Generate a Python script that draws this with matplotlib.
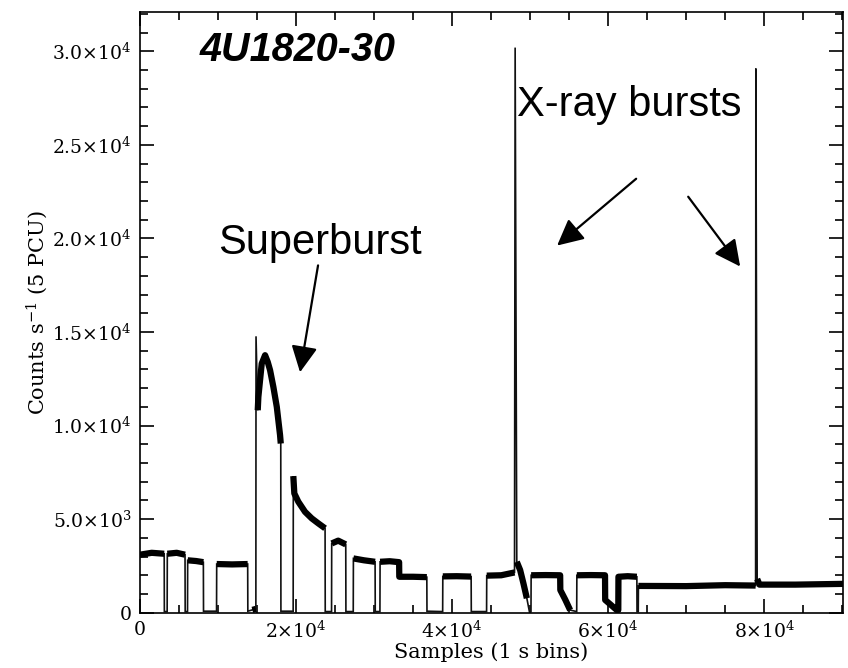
import numpy as np
import matplotlib
matplotlib.use("Agg")
import matplotlib.pyplot as plt
from matplotlib.ticker import MultipleLocator, FuncFormatter

# light curve (time in s, rate in counts/s)
time_s = [0, 1500, 3100, 3120, 3480,
          3500, 4700, 5770, 5790, 6090,
          6110, 7200, 8120, 8140, 9810,
          9830, 11800, 13800, 13820, 14400, 14850,
          14870, 15090, 15170, 15600, 16030, 16370, 16670, 17090, 17530, 17950, 18040,
          18060, 19630,
          19650, 19780, 20290, 21150, 22010, 22860, 23720, 23740, 24550,
          24570, 25400, 26370, 26390, 27330,
          27350, 28700, 30130, 30150, 30750,
          30770, 32000, 33210,
          33230, 35000, 36760, 36780, 38790,
          38810, 40600, 42440, 42460, 44420,
          44440, 46300, 48000,
          48080, 48290, 48720, 49140, 49580, 49910, 50110,
          50130, 52000, 53850, 53870, 54500, 55130, 55970,
          55990, 57800, 59600, 59620, 60400, 61110, 61300,
          61320, 62500, 63680, 63700, 63860,
          63880, 70000, 75000, 78900,
          78930, 79100, 79400, 84000, 90100]
rate = [3100, 3200, 3150, 60, 60,
        3150, 3200, 3100, 60, 60,
        2800, 2760, 2700, 80, 80,
        2600, 2580, 2600, 80, 150, 200,
        14770, 10820, 11530, 13310, 13760, 13400, 12960, 12070, 11000, 9490, 9040,
        80, 80,
        7300, 6370, 5930, 5390, 5040, 4770, 4510, 60, 60,
        3700, 3850, 3650, 60, 60,
        2900, 2800, 2720, 60, 60,
        2720, 2750, 2700,
        1920, 1920, 1900, 80, 60,
        1940, 1950, 1930, 60, 60,
        1980, 2000, 2150,
        30200, 2720, 2280, 1570, 770, 50, 50,
        2000, 2010, 2000, 1210, 700, 140, 60,
        2000, 2010, 2000, 680, 400, 140, 140,
        1920, 1950, 1920, 60, 60,
        1430, 1420, 1470, 1450,
        29080, 1800, 1500, 1500, 1540]

# single-bin spikes (superburst onset and the two X-ray bursts)
spike_times = [14870, 48080, 78930]

x_ticks = [0, 20000, 40000, 60000, 80000]
x_labels = ["0", "2×10$^4$", "4×10$^4$", "6×10$^4$", "8×10$^4$"]
y_ticks = [0, 5000, 10000, 15000, 20000, 25000, 30000]
y_labels = ["0", "5.0×10$^3$", "1.0×10$^4$", "1.5×10$^4$",
            "2.0×10$^4$", "2.5×10$^4$", "3.0×10$^4$"]

plt.rcParams["mathtext.fontset"] = "dejavuserif"

t = np.array(time_s, dtype=float)
r = np.array(rate, dtype=float)

fig = plt.figure(figsize=(8.48, 6.68), dpi=100)
ax = fig.add_axes([0.1651, 0.0828, 0.829, 0.8992])

# thin trace for everything
ax.plot(t, r, color="#111111", lw=1.2, solid_joinstyle="miter")

# thicker band for the noisy on-source data
thick = r.copy()
thick[r < 100] = np.nan
thick[np.isin(t, spike_times)] = np.nan
ax.plot(t, thick, color="k", lw=4.5, solid_capstyle="butt")

ax.set_xlim(0, 90100)
ax.set_ylim(0, 32100)

ax.xaxis.set_major_locator(MultipleLocator(20000))
ax.xaxis.set_minor_locator(MultipleLocator(5000))
ax.yaxis.set_major_locator(MultipleLocator(5000))
ax.yaxis.set_minor_locator(MultipleLocator(1000))
ax.xaxis.set_major_formatter(FuncFormatter(
    lambda v, p: x_labels[x_ticks.index(int(round(v)))] if int(round(v)) in x_ticks else ""))
ax.yaxis.set_major_formatter(FuncFormatter(
    lambda v, p: y_labels[y_ticks.index(int(round(v)))] if int(round(v)) in y_ticks else ""))

ax.tick_params(which="both", direction="in", top=True, right=True, width=1.2,
               labelsize=13.5)
ax.tick_params(which="major", length=10, pad=6)
ax.tick_params(which="minor", length=5.5)
for lab in ax.get_xticklabels() + ax.get_yticklabels():
    lab.set_family("DejaVu Serif")
for s in ax.spines.values():
    s.set_linewidth(1.2)

ax.set_xlabel("Samples (1 s bins)", family="DejaVu Serif", fontsize=15, labelpad=0)
ax.set_ylabel("Counts s$^{-1}$ (5 PCU)", family="DejaVu Serif", fontsize=15, labelpad=2)

# annotations
ax.text(7690, 29500, "4U1820-30", fontsize=28.5, fontweight="bold", fontstyle="italic",
        family="Liberation Sans", va="baseline")
ax.text(48330, 26570, "X-ray bursts", fontsize=30, family="Liberation Sans", va="baseline")
ax.text(10000, 19150, "Superburst", fontsize=30, family="Liberation Sans", va="baseline")

arrow = dict(arrowstyle="-|>,head_length=0.8,head_width=0.4", mutation_scale=20,
             lw=1.6, color="k", shrinkA=0, shrinkB=0)
ax.annotate("", xy=(20510, 12850), xytext=(22820, 18560), arrowprops=arrow)
ax.annotate("", xy=(53460, 19620), xytext=(63590, 23190), arrowprops=arrow)
ax.annotate("", xy=(76920, 18500), xytext=(70260, 22230), arrowprops=arrow)

fig.savefig("out.png", dpi=100)
